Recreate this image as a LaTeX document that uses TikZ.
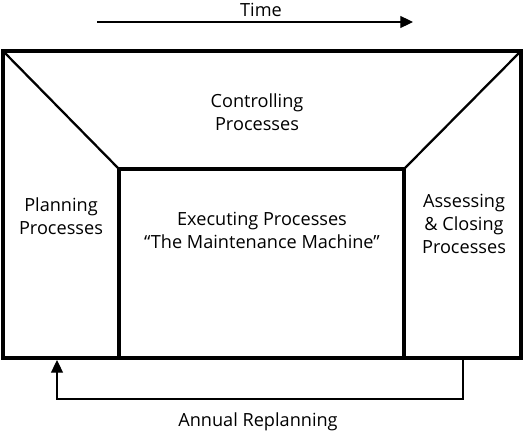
\documentclass[tikz,border=0pt]{standalone}
\usepackage{fontspec}
\setmainfont{Open Sans}
\usetikzlibrary{arrows.meta,positioning}

\begin{document}
\begin{tikzpicture}[
  x=0.75pt,y=-0.75pt,
  frame/.style={line width=2.3pt,line join=miter},
  slant/.style={line width=1.7pt},
  flow/.style={line width=0.8pt,-{Triangle[length=9.5pt,width=9pt]}},
  label/.style={align=center,font=\fontsize{13.6}{17.3}\selectfont,inner sep=0pt}
]
  \useasboundingbox (0,0) rectangle (524,435);

  % corners of the frame
  \coordinate (otl) at (3,51);
  \coordinate (otr) at (521,51);
  \coordinate (obl) at (3,358);
  \coordinate (obr) at (521,358);
  \coordinate (itl) at (119,169);
  \coordinate (itr) at (404,169);
  \coordinate (ibl) at (119,358);
  \coordinate (ibr) at (404,358);

  \draw[slant] (otl) -- (itl);
  \draw[slant] (otr) -- (itr);
  \draw[frame] (otl) rectangle (obr);
  \draw[frame] (ibl) -- (itl) -- (itr) -- (ibr);

  \node[label] (ctrl) at (257,112) {Controlling\\Processes};
  \node[label] (plan) at (61,216) {Planning\\Processes};
  \node[label] (exec) at (262,230) {Executing Processes\\``The Maintenance Machine''};
  \node[label] (close) at (464,224) {Assessing\\\& Closing\\Processes};

  % time arrow
  \coordinate (t0) at (97,22);
  \coordinate (t1) at (413,22);
  \draw[flow] (t0) -- (t1);
  \node[label] (time) at (261,10) {Time};

  % replanning loop
  \coordinate (r0) at (463,358);
  \coordinate (r1) at (57,360);
  \draw[flow] (r0) |- (57,399) -- (r1);
  \node[label] (replan) at (258,422) {Annual Replanning};
\end{tikzpicture}
\end{document}
